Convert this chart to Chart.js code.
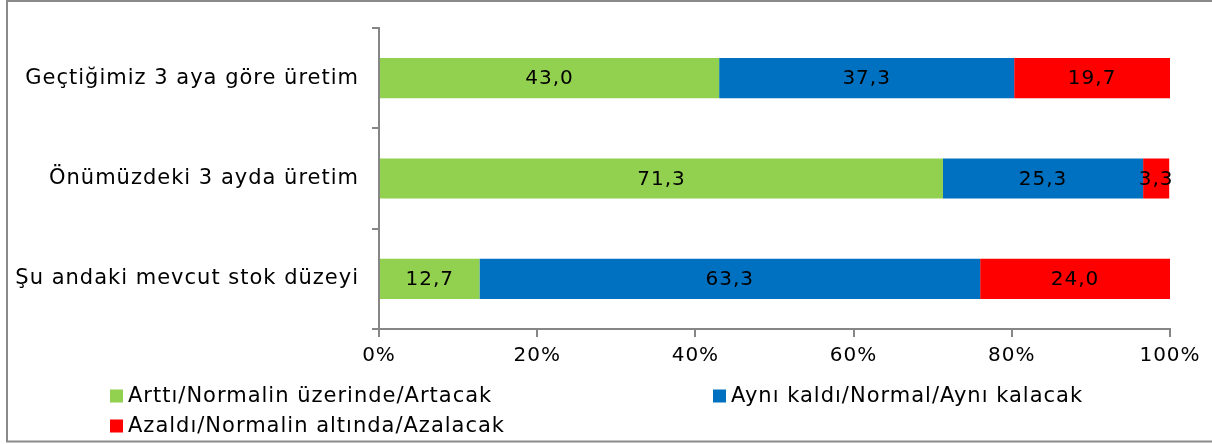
<!DOCTYPE html>
<html lang="tr">
<head>
<meta charset="UTF-8">
<title>Üretim ve stok beklentileri</title>
<script src="https://cdn.jsdelivr.net/npm/chart.js"></script>
<style>
  html, body { margin: 0; padding: 0; background: #fff; }
  #wrap { position: relative; width: 1212px; height: 444px; }
</style>
</head>
<body>
<div id="wrap"><canvas id="stokChart" width="1212" height="444"></canvas></div>
<script>
const categories = ['Geçtiğimiz 3 aya göre üretim', 'Önümüzdeki 3 ayda üretim', 'Şu andaki mevcut stok düzeyi'];
const seriesNames = ['Arttı/Normalin üzerinde/Artacak', 'Aynı kaldı/Normal/Aynı kalacak', 'Azaldı/Normalin altında/Azalacak'];
const arttiValues = [43.0, 71.3, 12.7];
const ayniValues = [37.3, 25.3, 63.3];
const azaldiValues = [19.7, 3.3, 24.0];
const seriesColors = ['#92D050', '#0070C0', '#FF0000'];

const FONT = "'DejaVu Sans', sans-serif";
const axisGray = '#868686';

// the original font is wide, so space the letters out a bit
const spacing = {
    id: 'spacing',
    beforeDraw(chart) { chart.ctx.letterSpacing = '1px'; }
};

// values written inside the bars, Turkish decimal comma
const barLabels = {
    id: 'barLabels',
    afterDatasetsDraw(chart) {
        const ctx = chart.ctx;
        ctx.save();
        ctx.font = '20px ' + FONT;
        ctx.fillStyle = '#000';
        ctx.textAlign = 'center';
        ctx.textBaseline = 'middle';
        chart.data.datasets.forEach((ds, i) => {
            chart.getDatasetMeta(i).data.forEach((bar, j) => {
                const cx = (bar.x + bar.base) / 2;
                ctx.fillText(ds.data[j].toFixed(1).replace('.', ','), cx, bar.y + 1);
            });
        });
        ctx.restore();
    }
};

// frame + legend in two columns like the original
const frameLegend = {
    id: 'frameLegend',
    afterDraw(chart) {
        const ctx = chart.ctx;
        ctx.save();
        ctx.strokeStyle = '#8a8a8a';
        ctx.lineWidth = 2;
        ctx.beginPath();
        ctx.moveTo(1212, 1);
        ctx.lineTo(7, 1);
        ctx.lineTo(7, 441.5);
        ctx.lineTo(1212, 441.5);
        ctx.stroke();

        const spots = [[110, 396], [713, 396], [110, 426]];
        ctx.font = '21px ' + FONT;
        ctx.textBaseline = 'middle';
        ctx.textAlign = 'left';
        chart.data.datasets.forEach((ds, i) => {
            const [x, y] = spots[i];
            ctx.fillStyle = ds.backgroundColor;
            ctx.fillRect(x, y - 6.5, 13, 13);
            ctx.fillStyle = '#000';
            ctx.fillText(ds.label, x + 18, y + 1);
        });
        ctx.restore();
    }
};

new Chart(document.getElementById('stokChart'), {
    type: 'bar',
    data: {
        labels: categories,
        datasets: [
            { label: seriesNames[0], data: arttiValues, backgroundColor: seriesColors[0] },
            { label: seriesNames[1], data: ayniValues, backgroundColor: seriesColors[1] },
            { label: seriesNames[2], data: azaldiValues, backgroundColor: seriesColors[2] }
        ]
    },
    options: {
        indexAxis: 'y',
        responsive: false,
        animation: false,
        barPercentage: 0.4,
        categoryPercentage: 1,
        layout: { padding: { top: 28, right: 42, bottom: 75, left: 0 } },
        plugins: {
            legend: { display: false },
            tooltip: { enabled: false }
        },
        scales: {
            x: {
                stacked: true,
                min: 0,
                max: 100,
                ticks: {
                    stepSize: 20,
                    padding: 7,
                    color: '#000',
                    font: { family: FONT, size: 20 },
                    callback: v => v + '%'
                },
                grid: { drawOnChartArea: false, tickLength: 8, color: axisGray, lineWidth: 2 },
                border: { color: axisGray, width: 2 },
                afterFit(scale) { scale.height = 40; }
            },
            y: {
                stacked: true,
                ticks: {
                    padding: 13,
                    color: '#000',
                    font: { family: FONT, size: 21 }
                },
                grid: { offset: true, drawOnChartArea: false, tickLength: 7, color: axisGray, lineWidth: 2 },
                border: { color: axisGray, width: 2 },
                afterFit(scale) { scale.width = 379; }
            }
        }
    },
    plugins: [spacing, barLabels, frameLegend]
});
</script>
</body>
</html>
